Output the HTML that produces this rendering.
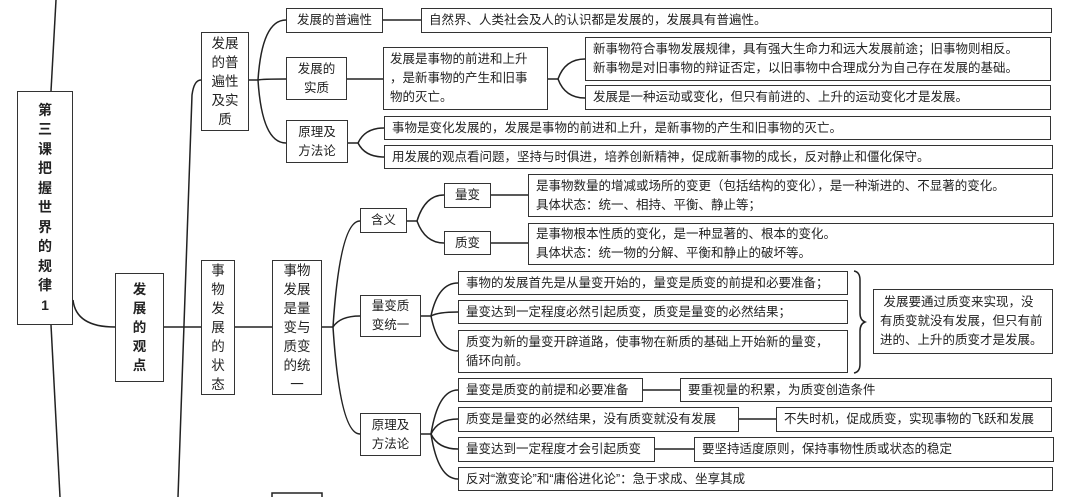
<!DOCTYPE html>
<html><head><meta charset="utf-8"><style>
body{margin:0;width:1080px;height:497px;background:#fff;position:relative;overflow:hidden;font-family:"Liberation Sans","Noto Sans CJK SC",sans-serif;color:#222}
.b{position:absolute;border:1.5px solid #333;box-sizing:border-box;font-size:12.5px;line-height:19px;padding:0 7px;display:flex;align-items:center;background:#fff;white-space:nowrap;overflow:hidden}
.c{justify-content:center;text-align:center;padding:0 2px}
.v{justify-content:center;text-align:center;padding:0;font-size:13.5px;line-height:19px}
svg{position:absolute;left:0;top:0}
</style></head><body>
<svg width="1080" height="497" fill="none" stroke="#222" stroke-width="1.5">
<path d="M56,0 L51,91"/><path d="M51,325 L60,497"/>
<path d="M73,300 Q76,327 115,327"/>
<path d="M164,327 L201,327"/><path d="M235,327 L272,327"/>
<path d="M178,497 L192,95 Q194,80 201,80"/>
<path d="M249,80 L258,80"/>
<path d="M258,80 Q262,20 286,20"/><path d="M258,80 Q262,79 286,79"/><path d="M258,80 Q262,143 286,143"/>
<path d="M383,20 L421,20"/><path d="M347,79 L383,79"/>
<path d="M548,79 L558,79 Q565,59 585,59"/><path d="M558,79 Q565,98 585,98"/>
<path d="M348,143 L358,143 Q365,128 384,128"/><path d="M358,143 Q365,157 384,157"/>
<path d="M322,327 L333,327"/>
<path d="M333,327 Q340,221 360,221"/><path d="M333,327 Q340,316 360,316"/><path d="M333,327 Q340,434 360,434"/>
<path d="M407,221 L417,221 Q425,195 444,195"/><path d="M417,221 Q425,243 444,243"/>
<path d="M491,195 L528,195"/><path d="M491,243 L528,243"/>
<path d="M421,316 L431,316 Q438,283 458,283"/><path d="M431,316 Q438,312 458,312"/><path d="M431,316 Q438,351 458,351"/>
<path d="M421,434 L431,434 Q438,390 458,390"/><path d="M431,434 Q438,419 458,419"/><path d="M431,434 Q438,449 458,449"/><path d="M431,434 Q438,479 458,479"/>
<path d="M643,390 L680,390"/><path d="M739,419 L776,419"/><path d="M655,449 L694,449"/>
<path d="M854,271 Q860,272 860,280 L860,313 Q860,320 865,322 Q860,324 860,331 L860,364 Q860,372 854,373"/>
<path d="M272,497 L272,493 L322,493 L322,497"/>
</svg>
<div class="b v" style="left:17px;top:91px;width:56px;height:234px;font-weight:bold;font-size:14px;line-height:19.5px">第<br>三<br>课<br>把<br>握<br>世<br>界<br>的<br>规<br>律<br>1</div>
<div class="b v" style="left:115px;top:273px;width:49px;height:109px;font-weight:bold;line-height:19px">发<br>展<br>的<br>观<br>点</div>
<div class="b v" style="left:201px;top:32px;width:48px;height:99px;line-height:19px">发展<br>的普<br>遍性<br>及实<br>质</div>
<div class="b v" style="left:201px;top:260px;width:34px;height:135px;line-height:19px">事<br>物<br>发<br>展<br>的<br>状<br>态</div>
<div class="b v" style="left:272px;top:260px;width:50px;height:135px;line-height:19px">事物<br>发展<br>是量<br>变与<br>质变<br>的统<br>一</div>
<div class="b c" style="left:286px;top:8px;width:97px;height:25px">发展的普遍性</div>
<div class="b" style="left:421px;top:8px;width:631px;height:25px">自然界、人类社会及人的认识都是发展的，发展具有普遍性。</div>
<div class="b c" style="left:286px;top:57px;width:61px;height:43px">发展的<br>实质</div>
<div class="b" style="left:383px;top:47px;width:165px;height:63px;padding:0 6px">发展是事物的前进和上升<br>，是新事物的产生和旧事<br>物的灭亡。</div>
<div class="b" style="left:585px;top:37px;width:466px;height:44px">新事物符合事物发展规律，具有强大生命力和远大发展前途；旧事物则相反。<br>新事物是对旧事物的辩证否定，以旧事物中合理成分为自己存在发展的基础。</div>
<div class="b" style="left:585px;top:85px;width:466px;height:25px">发展是一种运动或变化，但只有前进的、上升的运动变化才是发展。</div>
<div class="b c" style="left:286px;top:120px;width:62px;height:43px">原理及<br>方法论</div>
<div class="b" style="left:384px;top:116px;width:667px;height:24px">事物是变化发展的，发展是事物的前进和上升，是新事物的产生和旧事物的灭亡。</div>
<div class="b" style="left:384px;top:145px;width:669px;height:24px">用发展的观点看问题，坚持与时俱进，培养创新精神，促成新事物的成长，反对静止和僵化保守。</div>
<div class="b c" style="left:360px;top:208px;width:47px;height:25px">含义</div>
<div class="b c" style="left:444px;top:183px;width:47px;height:25px">量变</div>
<div class="b c" style="left:444px;top:231px;width:47px;height:24px">质变</div>
<div class="b" style="left:528px;top:174px;width:525px;height:43px">是事物数量的增减或场所的变更（包括结构的变化），是一种渐进的、不显著的变化。<br>具体状态：统一、相持、平衡、静止等；</div>
<div class="b" style="left:528px;top:223px;width:526px;height:42px">是事物根本性质的变化，是一种显著的、根本的变化。<br>具体状态：统一物的分解、平衡和静止的破坏等。</div>
<div class="b c" style="left:360px;top:295px;width:61px;height:42px">量变质<br>变统一</div>
<div class="b" style="left:458px;top:271px;width:390px;height:24px">事物的发展首先是从量变开始的，量变是质变的前提和必要准备；</div>
<div class="b" style="left:458px;top:300px;width:390px;height:24px">量变达到一定程度必然引起质变，质变是量变的必然结果；</div>
<div class="b" style="left:458px;top:330px;width:390px;height:43px">质变为新的量变开辟道路，使事物在新质的基础上开始新的量变，<br>循环向前。</div>
<div class="b" style="left:873px;top:289px;width:180px;height:65px;padding:0 6px">&nbsp;发展要通过质变来实现，没<br>有质变就没有发展，但只有前<br>进的、上升的质变才是发展。</div>
<div class="b c" style="left:360px;top:413px;width:61px;height:43px">原理及<br>方法论</div>
<div class="b" style="left:458px;top:378px;width:185px;height:24px">量变是质变的前提和必要准备</div>
<div class="b" style="left:680px;top:378px;width:372px;height:24px">要重视量的积累，为质变创造条件</div>
<div class="b" style="left:458px;top:407px;width:281px;height:25px">质变是量变的必然结果，没有质变就没有发展</div>
<div class="b" style="left:776px;top:407px;width:276px;height:25px">不失时机，促成质变，实现事物的飞跃和发展</div>
<div class="b" style="left:458px;top:437px;width:197px;height:25px">量变达到一定程度才会引起质变</div>
<div class="b" style="left:694px;top:437px;width:360px;height:25px">要坚持适度原则，保持事物性质或状态的稳定</div>
<div class="b" style="left:458px;top:467px;width:595px;height:24px">反对“激变论”和“庸俗进化论”：急于求成、坐享其成</div>
</body></html>
